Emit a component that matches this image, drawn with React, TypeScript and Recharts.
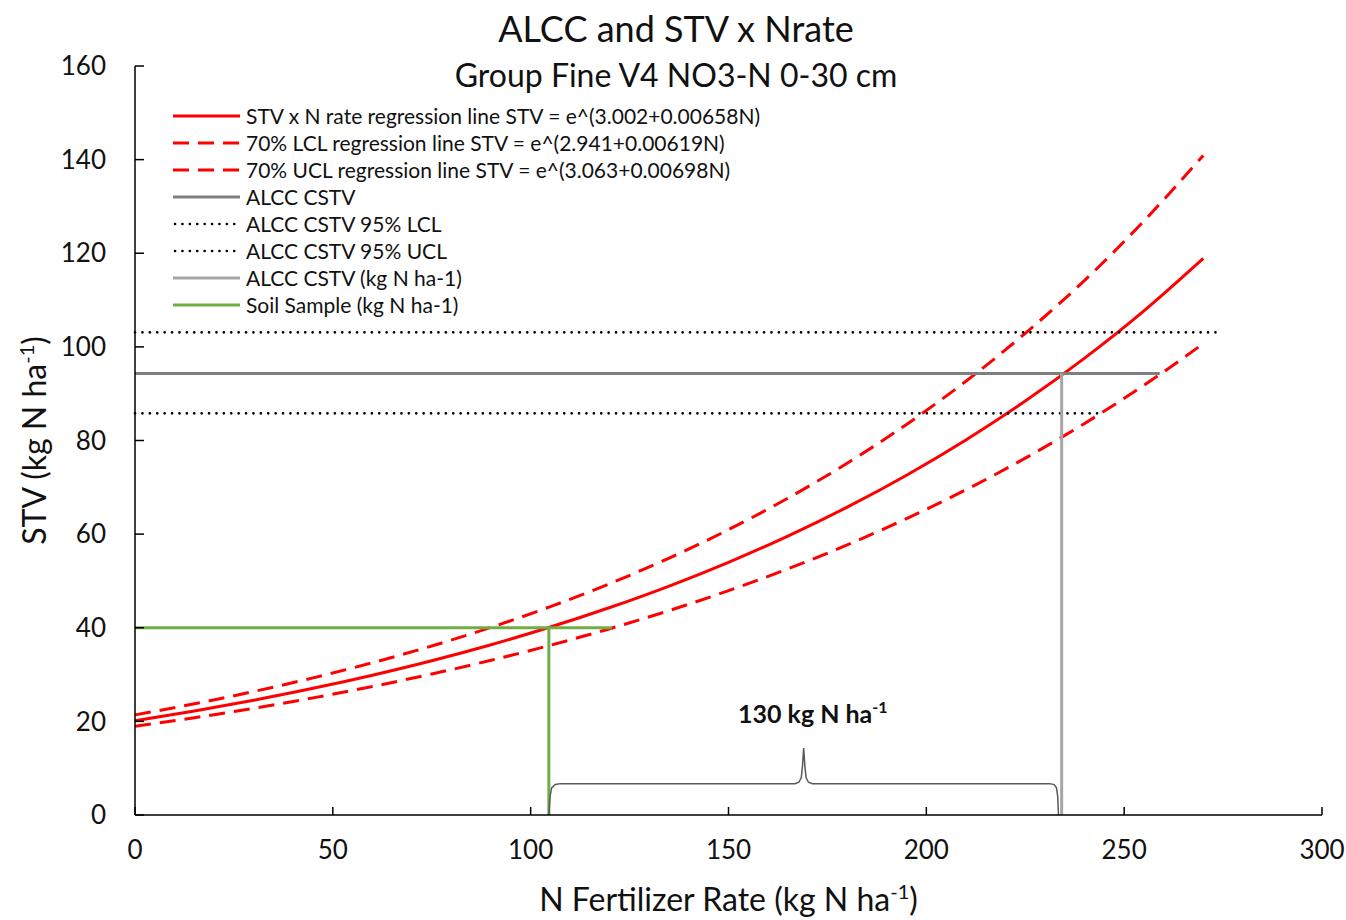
import { LineChart, Line, XAxis, YAxis, ReferenceDot } from 'recharts';

const FONT = 'Lato, "Open Sans", sans-serif';

// N rate points for the fitted curves (kg N/ha)
const nRate = [0, 15, 30, 45, 60, 75, 90, 105, 120, 135, 150, 165, 180, 195, 210, 225, 240, 255, 270];
const stvFit = [20.13, 22.21, 24.52, 27.06, 29.87, 32.96, 36.38, 40.15, 44.32, 48.91, 53.99, 59.58, 65.76, 72.58, 80.11, 88.42, 97.59, 107.7, 118.9];
const lclFit = [18.94, 20.78, 22.8, 25.02, 27.45, 30.12, 33.05, 36.27, 39.8, 43.67, 47.92, 52.58, 57.7, 63.31, 69.47, 76.23, 83.65, 91.79, 100.7];
const uclFit = [21.39, 23.75, 26.38, 29.29, 32.52, 36.11, 40.09, 44.52, 49.43, 54.89, 60.95, 67.68, 75.15, 83.44, 92.66, 102.9, 114.2, 126.9, 140.9];

// horizontal CSTV lines
const cstvX = [0, 259];
const cstvY = [94.3, 94.3];
const cstvLowX = [0, 244];
const cstvLowY = [85.8, 85.8];
const cstvHighX = [0, 274];
const cstvHighY = [103.1, 103.1];

// vertical drop from CSTV to the N rate axis
const cstvRateX = [234.2, 234.2];
const cstvRateY = [0, 94.3];

// soil sample
const soilHX = [0, 120.5];
const soilHY = [40, 40];
const soilVX = [104.6, 104.6];
const soilVY = [40, 0];

// curly bracket between the two rates
const bracketX = [104.6, 104.9, 105.3, 106.2, 107.5, 166.8, 167.8, 168.4, 168.7, 169.0, 169.3, 169.6, 170.2, 171.2, 231.2, 232.3, 232.9, 233.2, 233.4];
const bracketY = [0, 4.0, 5.8, 6.5, 6.7, 6.7, 7.0, 8.0, 10.5, 14.3, 10.5, 8.0, 7.0, 6.7, 6.7, 6.5, 5.8, 4.0, 0];
const bracketNote = { x: 171.3, y: 21.5, amount: '130 kg N ha' };

const xTicks = [0, 50, 100, 150, 200, 250, 300];
const yTicks = [0, 20, 40, 60, 80, 100, 120, 140, 160];

const zip = (xs: number[], ys: number[]) => xs.map((x, i) => ({ x, y: ys[i] }));

const legendItems = [
  { name: 'STV x N rate regression line STV = e^(3.002+0.00658N)', color: '#ff0000', width: 3, dash: undefined as string | undefined, cap: 'butt' },
  { name: '70% LCL regression line STV = e^(2.941+0.00619N)', color: '#ff0000', width: 3, dash: '16 9', cap: 'butt' },
  { name: '70% UCL regression line STV = e^(3.063+0.00698N)', color: '#ff0000', width: 3, dash: '16 9', cap: 'butt' },
  { name: 'ALCC CSTV', color: '#7f7f7f', width: 3, dash: undefined, cap: 'butt' },
  { name: 'ALCC CSTV 95% LCL', color: '#000000', width: 2.6, dash: '0.1 7.3', cap: 'round' },
  { name: 'ALCC CSTV 95% UCL', color: '#000000', width: 2.6, dash: '0.1 7.3', cap: 'round' },
  { name: 'ALCC CSTV (kg N ha-1)', color: '#a6a6a6', width: 3, dash: undefined, cap: 'butt' },
  { name: 'Soil Sample (kg N ha-1)', color: '#70ad47', width: 3, dash: undefined, cap: 'butt' },
];

const YTitle = (props: any) => {
  const vb = props.viewBox || { y: 66, height: 749 };
  const cy = vb.y + vb.height / 2;
  const x = 46;
  return (
    <text x={x} y={cy} transform={`rotate(-90 ${x} ${cy})`} textAnchor="middle" fontFamily={FONT} fontSize={32} fill="#111">
      STV (kg N ha<tspan dy={-12} fontSize={20}>-1</tspan><tspan dy={12}>)</tspan>
    </text>
  );
};

const XTitle = (props: any) => {
  const vb = props.viewBox || { x: 135, width: 1187 };
  const cx = vb.x + vb.width / 2;
  return (
    <text x={cx} y={911} textAnchor="middle" fontFamily={FONT} fontSize={32} fill="#111">
      N Fertilizer Rate (kg N ha<tspan dy={-12} fontSize={20}>-1</tspan><tspan dy={12}>)</tspan>
    </text>
  );
};

const NoteLabel = (props: any) => {
  const vb = props.viewBox || { x: 0, y: 0, width: 0, height: 0 };
  const cx = vb.x + (vb.width || 0) / 2;
  const cy = vb.y + (vb.height || 0) / 2;
  return (
    <text x={cx} y={cy + 9} textAnchor="middle" fontFamily={FONT} fontSize={25} fontWeight={700} fill="#111">
      {bracketNote.amount}<tspan dy={-10} fontSize={16}>-1</tspan>
    </text>
  );
};

const App = () => {
  return (
    <div style={{ position: 'absolute', left: 0, top: 0, width: 1346, height: 920, background: '#fff', fontFamily: FONT }}>
      <div style={{ position: 'absolute', left: 0, width: 1352, top: 6, textAlign: 'center', fontSize: 36, color: '#111', lineHeight: '44px' }}>
        ALCC and STV x Nrate
      </div>
      <div style={{ position: 'absolute', left: 0, width: 1352, top: 55, textAlign: 'center', fontSize: 32, color: '#111', lineHeight: '40px' }}>
        Group Fine V4 NO3-N 0-30 cm
      </div>

      <LineChart width={1346} height={920} margin={{ top: 66, right: 24, left: 75, bottom: 45 }}>
        <XAxis
          type="number"
          dataKey="x"
          domain={[0, 300]}
          ticks={xTicks}
          height={60}
          tick={{ fill: '#111', fontSize: 26, fontFamily: FONT }}
          axisLine={{ stroke: '#000', strokeWidth: 1.5 }}
          tickLine={{ stroke: '#000', strokeWidth: 1.5 }}
          tickSize={-8}
          tickMargin={34}
          label={<XTitle />}
        />
        <YAxis
          type="number"
          dataKey="y"
          domain={[0, 160]}
          ticks={yTicks}
          width={60}
          tick={{ fill: '#111', fontSize: 26, fontFamily: FONT }}
          axisLine={{ stroke: '#000', strokeWidth: 1.5 }}
          tickLine={{ stroke: '#000', strokeWidth: 1.5 }}
          tickSize={-9}
          tickMargin={38}
          label={<YTitle />}
        />
        <Line data={zip(nRate, stvFit)} dataKey="y" type="monotone" stroke="#ff0000" strokeWidth={3} dot={false} isAnimationActive={false} />
        <Line data={zip(nRate, lclFit)} dataKey="y" type="monotone" stroke="#ff0000" strokeWidth={3} strokeDasharray="16 9" dot={false} isAnimationActive={false} />
        <Line data={zip(nRate, uclFit)} dataKey="y" type="monotone" stroke="#ff0000" strokeWidth={3} strokeDasharray="16 9" dot={false} isAnimationActive={false} />
        <Line data={zip(cstvX, cstvY)} dataKey="y" type="linear" stroke="#7f7f7f" strokeWidth={3} dot={false} isAnimationActive={false} />
        <Line data={zip(cstvLowX, cstvLowY)} dataKey="y" type="linear" stroke="#000" strokeWidth={2.6} strokeDasharray="0.1 7.3" strokeLinecap="round" dot={false} isAnimationActive={false} />
        <Line data={zip(cstvHighX, cstvHighY)} dataKey="y" type="linear" stroke="#000" strokeWidth={2.6} strokeDasharray="0.1 7.3" strokeLinecap="round" dot={false} isAnimationActive={false} />
        <Line data={zip(cstvRateX, cstvRateY)} dataKey="y" type="linear" stroke="#a6a6a6" strokeWidth={3} dot={false} isAnimationActive={false} />
        <Line data={zip(soilHX, soilHY)} dataKey="y" type="linear" stroke="#70ad47" strokeWidth={3} dot={false} isAnimationActive={false} />
        <Line data={zip(soilVX, soilVY)} dataKey="y" type="linear" stroke="#70ad47" strokeWidth={3} dot={false} isAnimationActive={false} />
        <Line data={zip(bracketX, bracketY)} dataKey="y" type="linear" stroke="#595959" strokeWidth={1.5} dot={false} isAnimationActive={false} />
        <ReferenceDot x={bracketNote.x} y={bracketNote.y} r={1} fill="none" stroke="none" label={<NoteLabel />} />
      </LineChart>

      <div style={{ position: 'absolute', left: 173, top: 102 }}>
        {legendItems.map((it) => (
          <div key={it.name} style={{ display: 'flex', alignItems: 'center', height: 27 }}>
            <svg width={67} height={8} style={{ marginRight: 6 }}>
              <line x1={it.cap === 'round' ? 2 : 0} y1={4} x2={67} y2={4} stroke={it.color} strokeWidth={it.width} strokeDasharray={it.dash} strokeLinecap={it.cap as any} />
            </svg>
            <span style={{ fontSize: 21, color: '#111', whiteSpace: 'nowrap' }}>{it.name}</span>
          </div>
        ))}
      </div>
    </div>
  );
};

export default App;
